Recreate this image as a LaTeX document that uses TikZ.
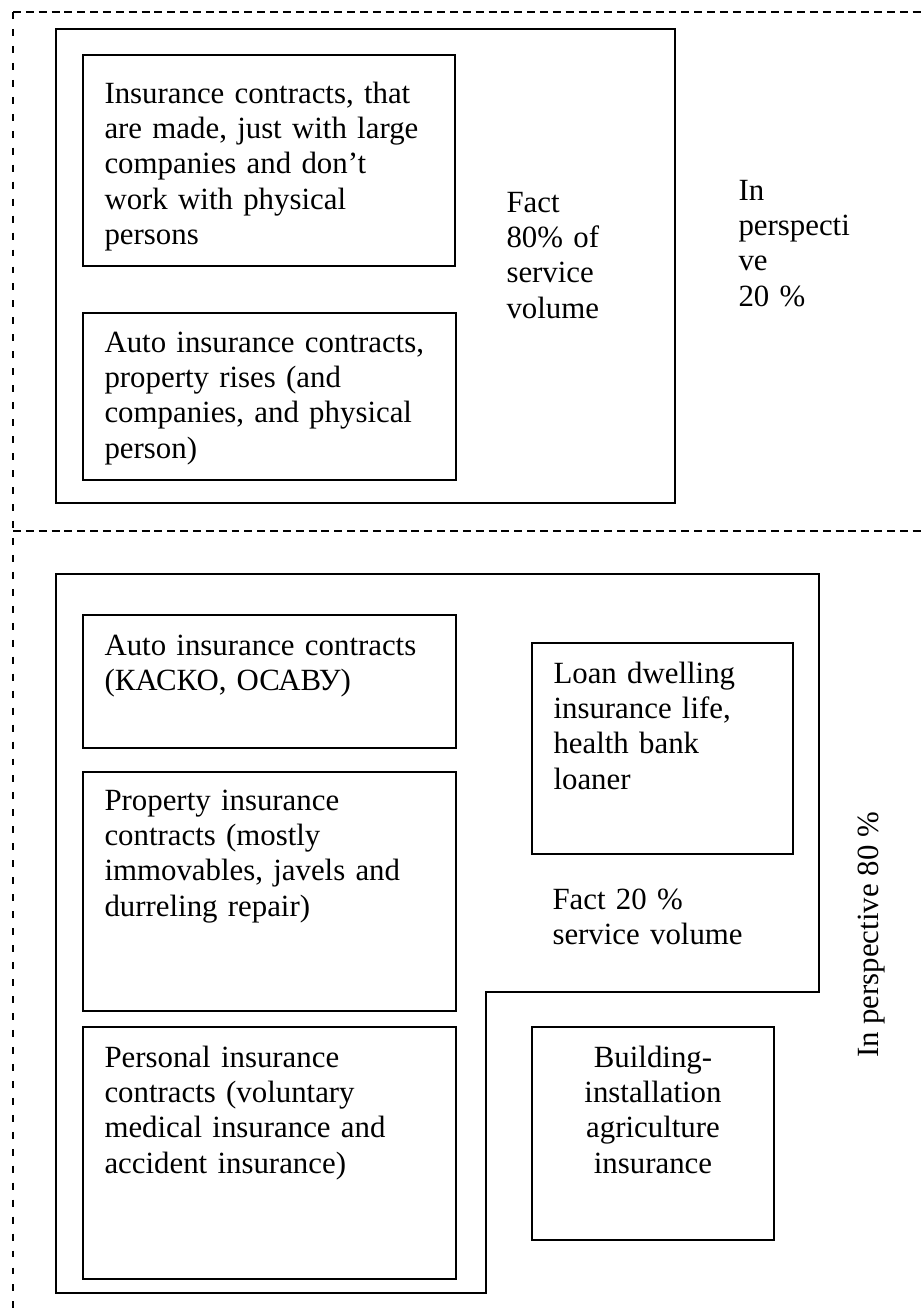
\documentclass[tikz,border=0pt]{standalone}
\usepackage{fontspec}
\setmainfont{Liberation Serif}
\usepackage{tikz}
\tikzset{
  frame/.style={draw=black,line width=0.8pt},
  zone/.style={draw=black,line width=0.5pt,dash pattern=on 3.1pt off 1.9pt},
  zone side/.style={draw=black,line width=0.5pt,dash pattern=on 2.7pt off 3.9pt},
  txt/.style={anchor=base west,inner sep=0pt,text width=#1,align=left,
    font=\fontsize{12}{13.8}\selectfont},
  txt/.default=150pt,
  ctxt/.style={anchor=base,inner sep=0pt,text width=#1,align=center,
    font=\fontsize{12}{13.8}\selectfont},
  ctxt/.default=90pt,
}

\begin{document}
\begin{tikzpicture}[x=0.389pt,y=-0.389pt]
  \useasboundingbox (0,0) rectangle (922,1310);
  % dashed zones
  \draw[zone] (13,12) -- (922,12);
  \draw[zone] (13,531) -- (922,531);
  \draw[zone side] (13,12) -- (13,1310);

  % upper part
  \draw[frame] (56,29) rectangle (675,503);
  \draw[frame] (83,55) rectangle (455,266);
  \node[txt] (large) at (104,103) {Insurance contracts, that\\are made, just with large\\companies and don't\\work with physical\\persons};
  \draw[frame] (83,313) rectangle (456,480);
  \node[txt] (rises) at (104,352) {Auto insurance contracts,\\property rises (and\\companies, and physical\\person)};
  \node[txt=60pt] (fact80) at (506,212) {Fact\\80\% of\\service\\volume};
  \node[txt=40pt] (persp20) at (738,200) {In\\perspecti\\ve\\20 \%};

  % lower part
  \draw[frame] (56,574) -- (819,574) -- (819,992) -- (486,992) -- (486,1293) -- (56,1293) -- cycle;
  \draw[frame] (83,615) rectangle (456,748);
  \node[txt] (kasko) at (104,655) {Auto insurance contracts\\(КАСКО, ОСАВУ)};
  \draw[frame] (83,772) rectangle (456,1011);
  \node[txt] (property) at (104,810) {Property insurance\\contracts (mostly\\immovables, javels and\\durreling repair)};
  \draw[frame] (83,1027) rectangle (456,1279);
  \node[txt] (personal) at (104,1067) {Personal insurance\\contracts (voluntary\\medical insurance and\\accident insurance)};
  \draw[frame] (532,643) rectangle (793,854);
  \node[txt=90pt] (loan) at (553,683) {Loan dwelling\\insurance life,\\health bank\\loaner};
  \node[txt=90pt] (fact20) at (552,909) {Fact 20 \%\\service volume};
  \draw[frame] (532,1027) rectangle (774,1240);
  \node[ctxt] (building) at (653,1067) {Building-\\installation\\agriculture\\insurance};
  \node[anchor=base,inner sep=0pt,rotate=90,font=\fontsize{12}{13.8}\selectfont] (persp80) at (878,935) {In perspective 80 \%};
\end{tikzpicture}
\end{document}
